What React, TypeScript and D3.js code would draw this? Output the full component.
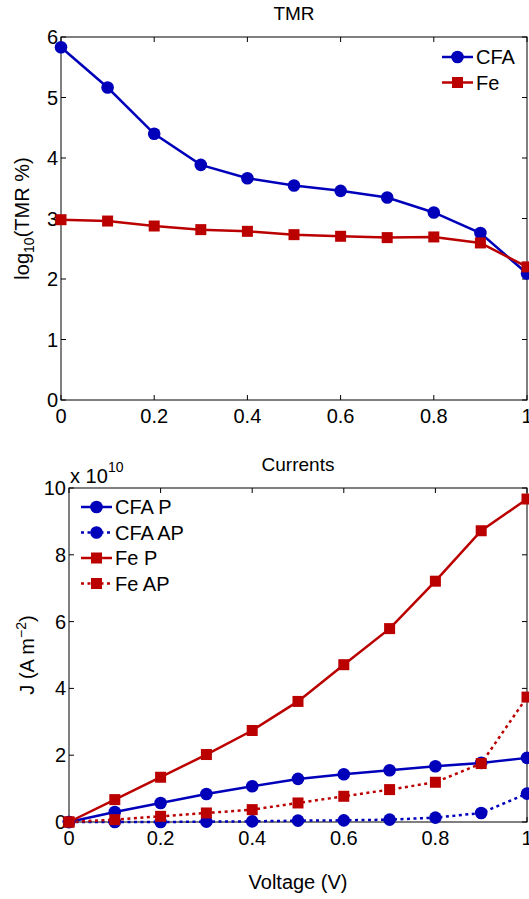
import React from 'react';
import * as d3 from 'd3';

const voltage = [0, 0.1, 0.2, 0.3, 0.4, 0.5, 0.6, 0.7, 0.8, 0.9, 1.0];

// TMR panel (log10 of TMR %)
const tmrCFA = [5.83, 5.165, 4.40, 3.886, 3.666, 3.545, 3.457, 3.348, 3.10, 2.76, 2.09];
const tmrFe = [2.98, 2.958, 2.876, 2.816, 2.788, 2.733, 2.706, 2.684, 2.695, 2.596, 2.20];

// Currents panel (units of 1e10 A m^-2)
const jCFAP = [0, 0.30, 0.57, 0.84, 1.07, 1.29, 1.43, 1.55, 1.67, 1.77, 1.92];
const jCFAAP = [0, 0.0, 0.0, 0.01, 0.02, 0.04, 0.05, 0.07, 0.13, 0.27, 0.85];
const jFeP = [0, 0.67, 1.34, 2.02, 2.74, 3.61, 4.71, 5.79, 7.21, 8.72, 9.67];
const jFeAP = [0, 0.07, 0.17, 0.27, 0.37, 0.57, 0.77, 0.97, 1.19, 1.75, 3.74];

const xTicks = [0, 0.2, 0.4, 0.6, 0.8, 1];
const tmrTicks = [0, 1, 2, 3, 4, 5, 6];
const jTicks = [0, 2, 4, 6, 8, 10];

const BLUE = '#0000bb';
const RED = '#bb0000';
const FONT = '"Liberation Sans", Arial, Helvetica, sans-serif';
const FS = 20;

type Series = { name: string; values: number[]; color: string; marker: 'circle' | 'square'; dotted: boolean };

const Marker = ({ x, y, s }: { x: number; y: number; s: Series }) =>
  s.marker === 'circle' ? (
    <circle cx={x} cy={y} r={6.3} fill={s.color} />
  ) : (
    <rect x={x - 5.5} y={y - 5.5} width={11} height={11} fill={s.color} />
  );

const Panel = ({
  left, right, top, bottom, yDomain, yTicks, series, title, yLabel, yLabelX, legend,
}: {
  left: number; right: number; top: number; bottom: number;
  yDomain: [number, number]; yTicks: number[]; series: Series[];
  title: string; yLabel: React.ReactNode; yLabelX: number; legend: { x: number; y: number };
}) => {
  const x = d3.scaleLinear().domain([0, 1]).range([left, right]);
  const y = d3.scaleLinear().domain(yDomain).range([bottom, top]);
  const line = d3.line<number>().x((_, i) => x(voltage[i])).y((d) => y(d));
  const tl = 5;
  return (
    <g fontFamily={FONT} fontSize={FS} fill="#000">
      <text x={(left + right) / 2} y={top - 17} textAnchor="middle" fontSize={19}>{title}</text>
      {/* axes box */}
      <rect x={left} y={top} width={right - left} height={bottom - top} fill="none" stroke="#000" strokeWidth={1} />
      {xTicks.map((t) => (
        <g key={'x' + t}>
          <line x1={x(t)} x2={x(t)} y1={bottom} y2={bottom - tl} stroke="#000" />
          <line x1={x(t)} x2={x(t)} y1={top} y2={top + tl} stroke="#000" />
          <text x={x(t)} y={bottom + 23} textAnchor="middle">{String(t)}</text>
        </g>
      ))}
      {yTicks.map((t) => (
        <g key={'y' + t}>
          <line x1={left} x2={left + tl} y1={y(t)} y2={y(t)} stroke="#000" />
          <line x1={right} x2={right - tl} y1={y(t)} y2={y(t)} stroke="#000" />
          <text x={left - 3} y={y(t) + 7} textAnchor="end">{String(t)}</text>
        </g>
      ))}
      <g transform={`translate(${yLabelX},${(top + bottom) / 2}) rotate(-90)`}>
        <text textAnchor="middle" y={0}>{yLabel}</text>
      </g>
      {series.map((s) => (
        <g key={s.name}>
          <path d={line(s.values) || ''} fill="none" stroke={s.color} strokeWidth={2.5}
            strokeDasharray={s.dotted ? '3,3.5' : undefined} />
          {s.values.map((v, i) => (
            <Marker key={i} x={x(voltage[i])} y={y(v)} s={s} />
          ))}
        </g>
      ))}
      {series.map((s, i) => {
        const ly = legend.y + i * 25.5;
        return (
          <g key={'lg' + s.name}>
            <line x1={legend.x} x2={legend.x + 31} y1={ly} y2={ly} stroke={s.color} strokeWidth={2.5}
              strokeDasharray={s.dotted ? '3,3.5' : undefined} />
            <Marker x={legend.x + 15.5} y={ly} s={s} />
            <text x={legend.x + 34} y={ly + 7}>{s.name}</text>
          </g>
        );
      })}
    </g>
  );
};

export default function App() {
  const tmrSeries: Series[] = [
    { name: 'CFA', values: tmrCFA, color: BLUE, marker: 'circle', dotted: false },
    { name: 'Fe', values: tmrFe, color: RED, marker: 'square', dotted: false },
  ];
  const jSeries: Series[] = [
    { name: 'CFA P', values: jCFAP, color: BLUE, marker: 'circle', dotted: false },
    { name: 'CFA AP', values: jCFAAP, color: BLUE, marker: 'circle', dotted: true },
    { name: 'Fe P', values: jFeP, color: RED, marker: 'square', dotted: false },
    { name: 'Fe AP', values: jFeAP, color: RED, marker: 'square', dotted: true },
  ];
  return (
    <svg width={529} height={899} style={{ position: 'absolute', left: 0, top: 0, background: '#fff' }}>
      <rect width={529} height={899} fill="#fff" />
      <Panel left={61} right={527} top={37} bottom={400} yDomain={[0, 6]} yTicks={tmrTicks}
        series={tmrSeries} title="TMR" legend={{ x: 442, y: 57 }} yLabelX={29}
        yLabel={<>log<tspan fontSize={14} dy={5}>10</tspan><tspan dy={-5}>(TMR %)</tspan></>} />
      <Panel left={69} right={527} top={488} bottom={822} yDomain={[0, 10]} yTicks={jTicks}
        series={jSeries} title="Currents" legend={{ x: 81, y: 507 }} yLabelX={34}
        yLabel={<>J (A m<tspan fontSize={14} dy={-8}>−2</tspan><tspan dy={8}>)</tspan></>} />
      <g fontFamily={FONT} fill="#000">
        <text x={70} y={483} fontSize={FS}>x 10</text>
        <text x={108} y={472} fontSize={14}>10</text>
        <text x={298} y={889} fontSize={FS} textAnchor="middle">Voltage (V)</text>
      </g>
    </svg>
  );
}
